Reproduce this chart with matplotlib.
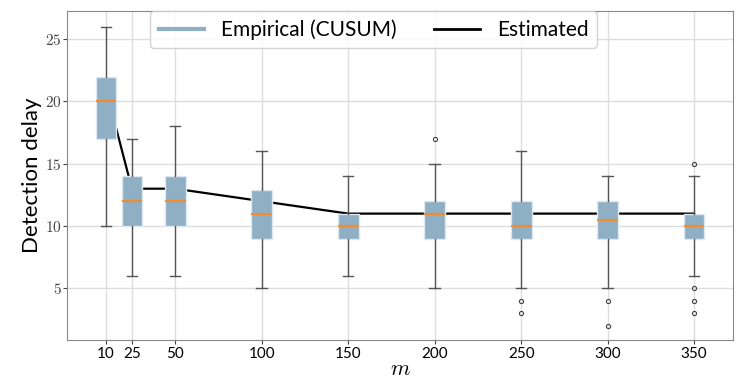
import matplotlib
matplotlib.use("Agg")
import matplotlib.pyplot as plt
from matplotlib.lines import Line2D
from matplotlib.ticker import FuncFormatter

# ---------- data ----------
m_values   = [10, 25, 50, 100, 150, 200, 250, 300, 350]
q1         = [17, 10, 10, 9, 9, 9, 9, 9, 9]
medians    = [20, 12, 12, 11, 10, 11, 10, 10.5, 10]
q3         = [22, 14, 14, 12.9, 11, 12, 12, 12, 11]
whisk_lo   = [10, 6, 6, 5, 6, 5, 5, 5, 6]
whisk_hi   = [26, 17, 18, 16, 14, 15, 16, 14, 14]
outliers   = [[], [], [], [], [], [17], [4, 3], [4, 2], [15, 5, 4, 3]]
estimated  = [21, 13, 13, 12, 11, 11, 11, 11, 11]

BOX_COLOR = "#8fafc4"
SANS = ["Lato", "DejaVu Sans"]

plt.rcParams["mathtext.fontset"] = "cm"

fig = plt.figure(figsize=(7.48, 3.83), dpi=100)
ax = fig.add_axes([0.0896, 0.112, 0.8904, 0.859])

stats = []
for i, m in enumerate(m_values):
    stats.append({
        "med": medians[i], "q1": q1[i], "q3": q3[i],
        "whislo": whisk_lo[i], "whishi": whisk_hi[i],
        "fliers": outliers[i],
    })

ax.bxp(
    stats, positions=m_values, widths=12, patch_artist=True, manage_ticks=False,
    boxprops=dict(facecolor=BOX_COLOR, edgecolor="#dde8f0", linewidth=1),
    medianprops=dict(color="#f28a2e", linewidth=1.6),
    whiskerprops=dict(color="#555555", linewidth=1),
    capprops=dict(color="#555555", linewidth=1),
    flierprops=dict(marker="o", markersize=3, markerfacecolor="none",
                    markeredgecolor="#444444", markeredgewidth=0.8),
    zorder=3,
)

ax.plot(m_values, estimated, color="black", linewidth=1.6, zorder=2)

ax.set_xlim(-12.5, 372.5)
ax.set_ylim(0.85, 27.25)
ax.set_xticks(m_values)
ax.set_xticklabels([str(m) for m in m_values], fontfamily=SANS, fontsize=11)
ax.set_yticks([5, 10, 15, 20, 25])
ax.yaxis.set_major_formatter(FuncFormatter(lambda v, p: f"${v:g}$"))
ax.tick_params(axis="y", labelsize=11, colors="#444444", length=3, pad=1)
ax.tick_params(axis="x", length=3, colors="#444444", labelcolor="black", pad=2)

ax.grid(True, color="#dddddd", linewidth=1)
ax.set_axisbelow(True)
for s in ax.spines.values():
    s.set_color("#888888")

ax.set_xlabel("$m$", fontsize=16, va="center")
ax.xaxis.set_label_coords(0.5, -0.088)
ax.set_ylabel("Detection delay", fontfamily=SANS, fontsize=16, labelpad=2)

handles = [Line2D([], [], color=BOX_COLOR, linewidth=3),
           Line2D([], [], color="black", linewidth=2)]
ax.legend(handles, ["Empirical (CUSUM)", "Estimated"], ncol=2,
          loc="upper center", bbox_to_anchor=(0.46, 1.0), borderaxespad=0,
          prop={"family": SANS, "size": 15}, framealpha=0.85,
          columnspacing=1.8, handlelength=2.2)

fig.savefig("out.png", dpi=100)
